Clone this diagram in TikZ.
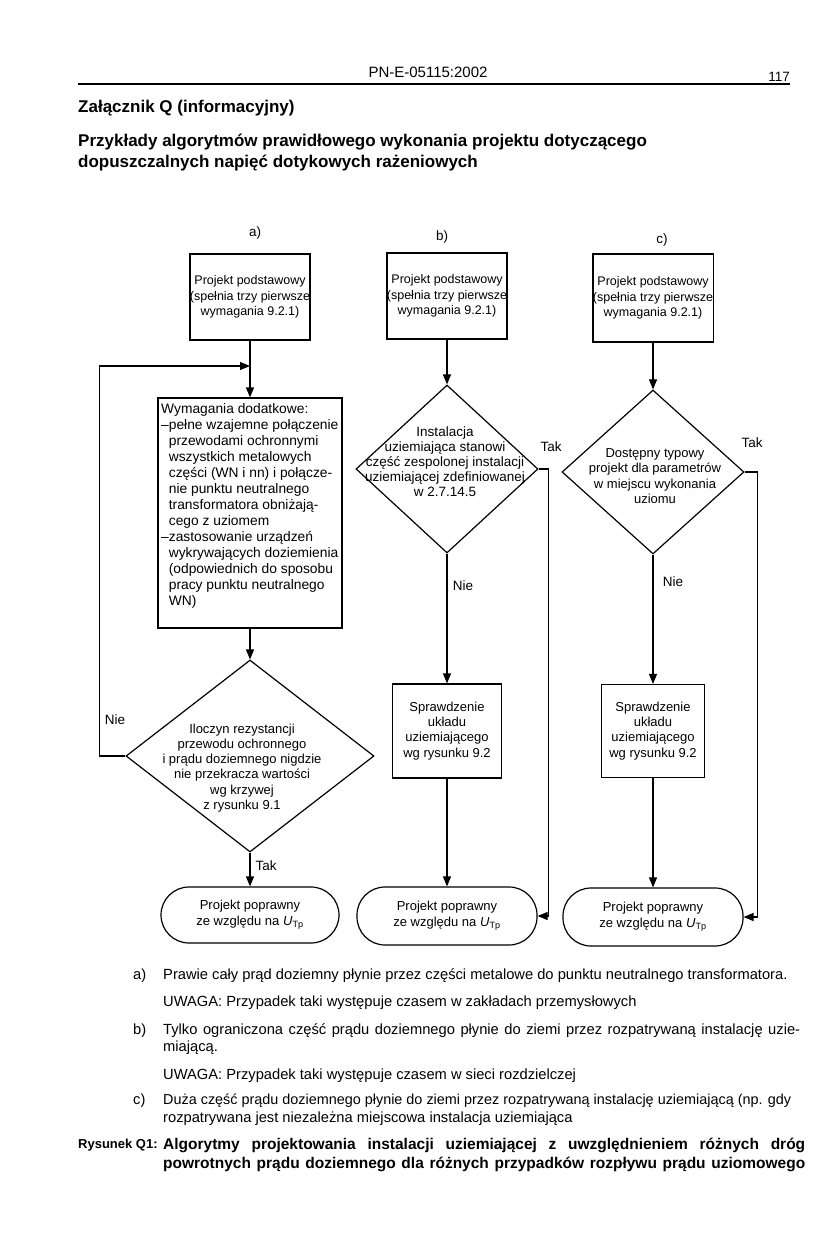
\documentclass[tikz,border=0pt]{standalone}
\usepackage{fontspec}
\setmainfont{Liberation Sans}
\usetikzlibrary{shapes.geometric,arrows.meta,positioning}

\newcommand{\fs}[2]{\fontsize{#1}{#2}\selectfont}
\newcommand{\utp}{\textit{U}\textsubscript{Tp}}

\begin{document}
\begin{tikzpicture}[
  x=1pt, y=-1pt,
  every node/.style={inner sep=0pt},
  box/.style={draw, line width=1.2pt, align=center, font=\fs{12.5}{15.5}},
  check/.style={draw, line width=1.2pt, align=center, font=\fs{13}{15.2}},
  decision/.style={draw, line width=1.2pt, diamond},
  dtext/.style={align=center, font=\fs{13}{15.2}},
  term/.style={draw, line width=1.2pt, rounded corners=28pt, align=center, font=\fs{13}{16}},
  lbl/.style={font=\fs{13.5}{16}},
  flow/.style={line width=1.2pt},
  arr/.style={line width=1.2pt, -{Triangle[length=10pt,width=8pt]}},
  note/.style={anchor=west, font=\fs{14.7}{17}}
]
  \useasboundingbox (0,0) rectangle (835,1249);

  % Naglowek strony
  \node[font=\fs{15}{16}] (hdr) at (428,72) {PN-E-05115:2002};
  \node[font=\fs{13.5}{16}, anchor=east] (pg) at (790,77) {117};
  \draw[line width=1.6pt] (78,84) -- (790,84);
  \node[anchor=west, font=\bfseries\fs{17}{20}] (zal) at (78,108) {Załącznik Q (informacyjny)};
  \node[anchor=north west, align=left, font=\bfseries\fs{17}{21}] (tyt) at (78,134)
    {Przykłady algorytmów prawidłowego wykonania projektu dotyczącego\\dopuszczalnych napięć dotykowych rażeniowych};

  % Kolumna a)
  \node[lbl] (la) at (255,233) {a)};
  \node[box, minimum width=119, minimum height=86] (pa) at (250,297) {Projekt podstawowy\\(spełnia trzy pierwsze\\wymagania 9.2.1)};
  \coordinate (ja) at (250,366);
  \node[draw, line width=1.2pt, minimum width=184, minimum height=230] (wa) at (250,513) {};
  \node[anchor=north west, align=left, font=\fs{13.8}{16}] (wat) at (161,403)
    {Wymagania dodatkowe:\\
     --pełne wzajemne połączenie\\
     \phantom{--}przewodami ochronnymi\\
     \phantom{--}wszystkich metalowych\\
     \phantom{--}części (WN i nn) i połącze-\\
     \phantom{--}nie punktu neutralnego\\
     \phantom{--}transformatora obniżają-\\
     \phantom{--}cego z uziomem\\
     --zastosowanie urządzeń\\
     \phantom{--}wykrywających doziemienia\\
     \phantom{--}(odpowiednich do sposobu\\
     \phantom{--}pracy punktu neutralnego\\
     \phantom{--}WN)};
  \node[decision, minimum width=248, minimum height=192] (da) at (250,756) {};
  \node[dtext] (dat) at (242,768) {Iloczyn rezystancji\\przewodu ochronnego\\i prądu doziemnego nigdzie\\nie przekracza wartości\\wg krzywej\\z rysunku 9.1};
  \node[term, minimum width=178, minimum height=56] (ta) at (250,915) {Projekt poprawny\\ze względu na \utp};
  \node[lbl] (niea) at (115,720) {Nie};
  \node[lbl] (taka) at (266,866) {Tak};

  \draw[flow] (pa) -- (ja);
  \draw[arr] (ja) -- (wa);
  \draw[arr] (wa) -- (da);
  \draw[arr] (da) -- (ta);
  \draw[arr] (da.west) -- ++(-26,0) |- (ja);

  % Kolumna b)
  \node[lbl] (lb) at (442,237) {b)};
  \node[box, minimum width=117, minimum height=86] (pb) at (447,296) {Projekt podstawowy\\(spełnia trzy pierwsze\\wymagania 9.2.1)};
  \node[decision, minimum width=182, minimum height=168] (db) at (447,469) {};
  \node[dtext, font=\fs{13.5}{15}] (dbt) at (445,462) {Instalacja\\uziemiająca stanowi\\część zespolonej instalacji\\uziemiającej zdefiniowanej\\w 2.7.14.5};
  \node[check, minimum width=109, minimum height=94] (sb) at (447,731) {Sprawdzenie\\układu\\uziemiającego\\wg rysunku 9.2};
  \node[term, minimum width=180, minimum height=58] (tb) at (447,916) {Projekt poprawny\\ze względu na \utp};
  \node[lbl] (takb) at (551,447) {Tak};
  \node[lbl] (nieb) at (463,586) {Nie};

  \draw[arr] (pb) -- (db);
  \draw[arr] (db) -- (sb);
  \draw[arr] (sb) -- (tb);
  \draw[arr] (db.east) -- ++(10,0) |- (tb.east);

  % Kolumna c)
  \node[lbl] (lc) at (662,240) {c)};
  \node[box, minimum width=117, minimum height=88] (pc) at (653,298) {Projekt podstawowy\\(spełnia trzy pierwsze\\wymagania 9.2.1)};
  \node[decision, minimum width=182, minimum height=164] (dc) at (653,472) {};
  \node[dtext] (dct) at (655,476) {Dostępny typowy\\projekt dla parametrów\\w miejscu wykonania\\uziomu};
  \node[check, minimum width=103, minimum height=93] (sc) at (653,731) {Sprawdzenie\\układu\\uziemiającego\\wg rysunku 9.2};
  \node[term, minimum width=180, minimum height=58] (tc) at (653,917) {Projekt poprawny\\ze względu na \utp};
  \node[lbl] (takc) at (752,443) {Tak};
  \node[lbl] (niec) at (673,582) {Nie};

  \draw[arr] (pc) -- (dc);
  \draw[arr] (dc) -- (sc);
  \draw[arr] (sc) -- (tc);
  \draw[arr] (dc.east) -- ++(13,0) |- (tc.east);

  % Objasnienia
  \node[note] (na) at (133,976) {a)};
  \node[note] (na1) at (163,976) {Prawie cały prąd doziemny płynie przez części metalowe do punktu neutralnego transformatora.};
  \node[note] (na2) at (163,1003) {UWAGA: Przypadek taki występuje czasem w zakładach przemysłowych};
  \node[note] (nb) at (133,1031) {b)};
  \node[note] (nb1) at (163,1031) {\makebox[637pt][s]{Tylko ograniczona część prądu doziemnego płynie do ziemi przez rozpatrywaną instalację uzie-}};
  \node[note] (nb2) at (163,1048) {miającą.};
  \node[note] (nb3) at (163,1076) {UWAGA: Przypadek taki występuje czasem w sieci rozdzielczej};
  \node[note] (nc) at (133,1101) {c)};
  \node[note, font=\fs{14.4}{17}] (nc1) at (163,1101) {Duża część prądu doziemnego płynie do ziemi przez rozpatrywaną instalację uziemiającą (np. gdy};
  \node[note] (nc2) at (163,1119) {rozpatrywana jest niezależna miejscowa instalacja uziemiająca};

  % Podpis rysunku
  \node[note, font=\bfseries\fs{13}{16}] (rys) at (78,1145) {Rysunek Q1:};
  \node[note, font=\bfseries\fs{15.5}{19}] (cap1) at (163,1145) {\makebox[642pt][s]{Algorytmy projektowania instalacji uziemiającej z uwzględnieniem różnych dróg}};
  \node[note, font=\bfseries\fs{15.5}{19}] (cap2) at (163,1164) {\makebox[642pt][s]{powrotnych prądu doziemnego dla różnych przypadków rozpływu prądu uziomowego}};
\end{tikzpicture}
\end{document}
